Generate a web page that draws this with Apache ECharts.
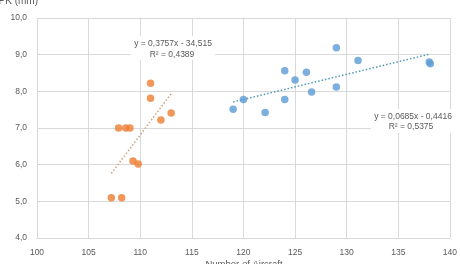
<!DOCTYPE html>
<html><head><meta charset="utf-8">
<script src="https://cdn.jsdelivr.net/npm/echarts@6/dist/echarts.min.js"></script>
<style>html,body{margin:0;padding:0;background:#fff}#c{width:460px;height:264px}</style>
</head><body><div id="c"></div>
<script>
// Data
var orangeX = [111.0, 111.0, 113.0, 112.0, 107.9, 108.6, 109.0, 109.3, 109.8, 107.2, 108.2];
var orangeY = [8.22, 7.81, 7.41, 7.22, 7.0, 7.0, 7.0, 6.1, 6.02, 5.1, 5.1];
var blueX = [129.0, 131.1, 138.0, 138.1, 124.0, 126.1, 125.0, 120.0, 126.6, 129.0, 124.0, 119.0, 122.1];
var blueY = [9.19, 8.84, 8.80, 8.75, 8.56, 8.52, 8.31, 7.78, 7.98, 8.12, 7.78, 7.51, 7.42];
// Trend line endpoints
var orangeTrendX = [107.2, 113.0];
var orangeTrendY = [5.76, 7.94];
var blueTrendX = [119.0, 138.1];
var blueTrendY = [7.71, 9.02];
var xTicks = [100, 105, 110, 115, 120, 125, 130, 135, 140];
var yTicks = [4, 5, 6, 7, 8, 9, 10];
var orangeEq = ['y = 0,3757x - 34,515', 'R\u00b2 = 0,4389'];
var blueEq = ['y = 0,0685x - 0,4416', 'R\u00b2 = 0,5375'];
var xTitle = 'Number of Aircraft';
var yTitle = 'CPK (mm)';

function pairs(xs, ys) { return xs.map(function (x, i) { return [x, ys[i]]; }); }

var ORANGE = '#ED7D31', BLUE = '#5B9BD5', TXT = '#595959', GRID = '#D9D9D9';
var FONT = 'Liberation Sans';

var chart = echarts.init(document.getElementById('c'), null, {renderer: 'canvas'});
chart.setOption({
  animation: false,
  backgroundColor: '#fff',
  textStyle: {fontFamily: FONT},
  grid: {left: 37, right: 9, top: 18, bottom: 26, containLabel: false},
  xAxis: {
    type: 'value', min: xTicks[0], max: xTicks[xTicks.length - 1], interval: 5,
    axisLine: {show: true, lineStyle: {color: GRID, width: 1}},
    axisTick: {show: false},
    splitLine: {show: true, lineStyle: {color: GRID, width: 1}},
    axisLabel: {color: TXT, fontSize: 8.5, fontFamily: FONT, margin: 10}
  },
  yAxis: {
    type: 'value', min: yTicks[0], max: yTicks[yTicks.length - 1], interval: 1,
    axisLine: {show: false},
    axisTick: {show: false},
    splitLine: {show: true, lineStyle: {color: GRID, width: 1}},
    axisLabel: {color: TXT, fontSize: 8.5, fontFamily: FONT, margin: 10,
      formatter: function (v) { return v.toFixed(1).replace('.', ','); }}
  },
  series: [
    {type: 'line', data: pairs(orangeTrendX, orangeTrendY), symbol: 'none', z: 2,
      lineStyle: {color: '#C9A27A', width: 1.5, type: [1.5, 2]}},
    {type: 'line', data: pairs(blueTrendX, blueTrendY), symbol: 'none', z: 2,
      lineStyle: {color: '#4E9AB5', width: 1.5, type: [1.5, 2]}},
    {type: 'scatter', data: pairs(orangeX, orangeY), symbolSize: 7.5, z: 3,
      itemStyle: {color: ORANGE}},
    {type: 'scatter', data: pairs(blueX, blueY), symbolSize: 7.5, z: 3,
      itemStyle: {color: BLUE}}
  ],
  graphic: [
    {type: 'rect', shape: {x: 131, y: 36, width: 84, height: 24}, style: {fill: '#fff'}, z: 5},
    {type: 'text', x: 173, y: 43.5, z: 6, style: {text: orangeEq[0], fill: TXT, font: '8.5px "' + FONT + '"', textAlign: 'center', textVerticalAlign: 'middle'}},
    {type: 'text', x: 172, y: 54.5, z: 6, style: {text: orangeEq[1], fill: TXT, font: '8.5px "' + FONT + '"', textAlign: 'center', textVerticalAlign: 'middle'}},
    {type: 'rect', shape: {x: 371, y: 109, width: 84, height: 24}, style: {fill: '#fff'}, z: 5},
    {type: 'text', x: 413, y: 116.5, z: 6, style: {text: blueEq[0], fill: TXT, font: '8.5px "' + FONT + '"', textAlign: 'center', textVerticalAlign: 'middle'}},
    {type: 'text', x: 411, y: 126.5, z: 6, style: {text: blueEq[1], fill: TXT, font: '8.5px "' + FONT + '"', textAlign: 'center', textVerticalAlign: 'middle'}},
    {type: 'text', x: 244, y: 264, z: 6, style: {text: xTitle, fill: TXT, font: '9.5px "' + FONT + '"', textAlign: 'center', textVerticalAlign: 'middle'}},
    {type: 'text', x: 38, y: 6, z: 6, style: {text: yTitle, fill: TXT, font: '10px "' + FONT + '"', textAlign: 'right', textVerticalAlign: 'bottom'}}
  ]
});
</script></body></html>
